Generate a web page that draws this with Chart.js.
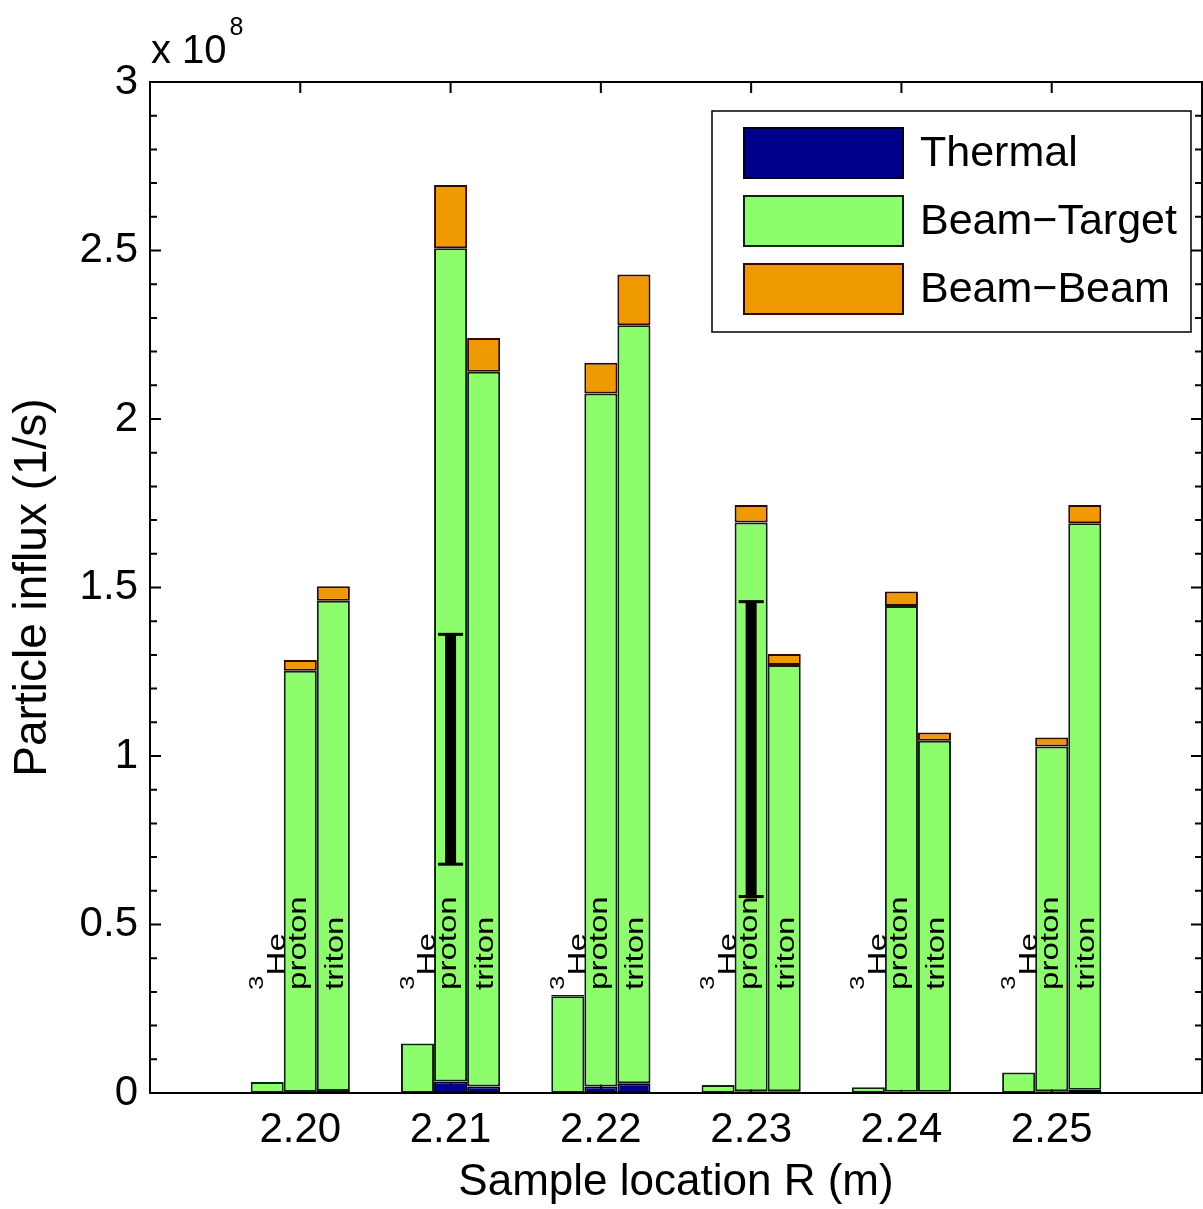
<!DOCTYPE html>
<html>
<head>
<meta charset="utf-8">
<title>Particle influx by sample location</title>
<script src="https://cdn.jsdelivr.net/npm/chart.js@4.4.1/dist/chart.umd.min.js"></script>
<style>
  body { margin: 0; background: #fff; }
  #wrap { width: 1203px; height: 1209px; }
</style>
</head>
<body>
<div id="wrap"><canvas id="influxChart"></canvas></div>
<script>
// sample locations R (m)
const locations = ['2.20', '2.21', '2.22', '2.23', '2.24', '2.25'];
const species = ['3He', 'proton', 'triton'];

// influx in units of 1e8 particles/s, one array per species and source
const thermalHe3 = [null, null, null, null, null, null];
const thermalProton = [0.003, 0.034, 0.019, 0.005, 0.004, 0.005];
const thermalTriton = [0.006, 0.019, 0.029, 0.005, 0.004, 0.010];

const beamTargetHe3 = [0.033, 0.147, 0.287, 0.024, 0.017, 0.061];
const beamTargetProton = [1.250, 2.473, 2.057, 1.688, 1.441, 1.023];
const beamTargetTriton = [1.455, 2.121, 2.249, 1.265, 1.041, 1.681];

const beamBeamHe3 = [null, null, 0.004, null, null, null];
const beamBeamProton = [0.032, 0.187, 0.091, 0.052, 0.043, 0.027];
const beamBeamTriton = [0.043, 0.100, 0.151, 0.033, 0.025, 0.054];

// measured proton influx range
const protonErrLow = [null, 0.679, null, 0.583, null, null];
const protonErrHigh = [null, 1.361, null, 1.458, null, null];

const yTicks = [0, 0.5, 1, 1.5, 2, 2.5, 3];
const labelLevel = 0.3;

const FONT = "'Liberation Sans', Arial, sans-serif";

const sources = [
  { name: 'Thermal', fill: '#00008C', edge: '#00001c', data: [thermalHe3, thermalProton, thermalTriton] },
  { name: 'Beam\u2212Target', fill: '#8DFD6D', edge: '#0c240c', data: [beamTargetHe3, beamTargetProton, beamTargetTriton] },
  { name: 'Beam\u2212Beam', fill: '#EE9900', edge: '#360600', data: [beamBeamHe3, beamBeamProton, beamBeamTriton] }
];

// empty slot on each side of the six locations
const axisLabels = ['', ...locations, ''];
const pad = arr => [null, ...arr, null];

const datasets = [];
sources.forEach(src => {
  species.forEach((sp, s) => {
    datasets.push({
      label: src.name,
      stack: sp,
      data: pad(src.data[s]),
      backgroundColor: src.fill,
      borderColor: src.edge,
      borderWidth: 2,
      borderSkipped: false,
      categoryPercentage: 0.66,
      barPercentage: 1
    });
  });
});

const protonIndex = datasets.findIndex(d => d.label === 'Beam\u2212Target' && d.stack === 'proton');

// rotated species name, glyph extent centred on the bar
function drawBarLabel(ctx, cx, y0, parts) {
  ctx.save();
  ctx.translate(cx, y0);
  ctx.rotate(-Math.PI / 2);
  ctx.scale(1, 0.78);
  ctx.textBaseline = 'alphabetic';
  ctx.textAlign = 'left';
  let X = 0, top = Infinity, bottom = -Infinity;
  const placed = parts.map(p => {
    ctx.font = `${p.size}px ${FONT}`;
    const m = ctx.measureText(p.text);
    top = Math.min(top, -p.rise - m.actualBoundingBoxAscent);
    bottom = Math.max(bottom, -p.rise + m.actualBoundingBoxDescent);
    const item = Object.assign({}, p, { X });
    X += m.width;
    return item;
  });
  const shift = -(top + bottom) / 2;
  ctx.fillStyle = '#000';
  placed.forEach(p => {
    ctx.font = `${p.size}px ${FONT}`;
    ctx.fillText(p.text, p.X, shift - p.rise);
  });
  ctx.restore();
}

const decorations = {
  id: 'decorations',
  beforeDatasetsDraw(chart) {
    const { ctx, chartArea: a, scales: { x, y } } = chart;
    ctx.save();
    ctx.strokeStyle = '#000';
    ctx.lineWidth = 2;
    ctx.beginPath();
    for (let k = 0; k <= 30; k++) {
      const py = y.getPixelForValue(k / 10);
      const len = k % 5 === 0 ? 11 : 7;
      ctx.moveTo(a.left, py); ctx.lineTo(a.left + len, py);
      ctx.moveTo(a.right, py); ctx.lineTo(a.right - len, py);
    }
    locations.forEach((_, i) => {
      const px = x.getPixelForValue(i + 1);
      ctx.moveTo(px, a.top); ctx.lineTo(px, a.top + 11);
      ctx.moveTo(px, a.bottom); ctx.lineTo(px, a.bottom - 11);
    });
    ctx.stroke();
    ctx.restore();
  },
  afterDatasetsDraw(chart) {
    const { ctx, chartArea: a, scales: { y } } = chart;
    ctx.save();

    // error bars on the proton column
    const pm = chart.getDatasetMeta(protonIndex);
    ctx.fillStyle = '#000';
    protonErrLow.forEach((lo, i) => {
      if (lo === null) return;
      const bx = pm.data[i + 1].x;
      const yt = y.getPixelForValue(protonErrHigh[i]);
      const yb = y.getPixelForValue(lo);
      ctx.fillRect(bx - 5.5, yt, 11, yb - yt);
      ctx.fillRect(bx - 12.5, yt - 1.5, 25, 3);
      ctx.fillRect(bx - 12.5, yb - 1.5, 25, 3);
    });

    // species names inside the bars
    const y0 = y.getPixelForValue(labelLevel) - 2;
    species.forEach(sp => {
      const idx = datasets.findIndex(d => d.stack === sp && d.label === 'Beam\u2212Target');
      const meta = chart.getDatasetMeta(idx);
      locations.forEach((_, i) => {
        const cx = meta.data[i + 1].x;
        const parts = sp === '3He'
          ? [{ text: '3', size: 26, rise: 28 }, { text: 'He', size: 33, rise: 0 }]
          : [{ text: sp, size: 33, rise: 0 }];
        drawBarLabel(ctx, cx, y0, parts);
      });
    });

    // axes box
    ctx.strokeStyle = '#000';
    ctx.lineWidth = 2;
    ctx.strokeRect(a.left, a.top, a.right - a.left, a.bottom - a.top);
    ctx.restore();
  },
  afterDraw(chart) {
    const { ctx, chartArea: a } = chart;
    ctx.save();

    // legend
    const lx = a.right - 490, ly = a.top + 29;
    ctx.fillStyle = '#fff';
    ctx.fillRect(lx, ly, 479, 221);
    ctx.strokeStyle = '#000';
    ctx.lineWidth = 1.5;
    ctx.strokeRect(lx, ly, 479, 221);
    sources.forEach((src, k) => {
      const sy = ly + 16 + k * 68;
      ctx.fillStyle = src.edge;
      ctx.fillRect(lx + 31, sy, 161, 52);
      ctx.fillStyle = src.fill;
      ctx.fillRect(lx + 33, sy + 2, 157, 48);
      ctx.fillStyle = '#000';
      ctx.font = `43px ${FONT}`;
      ctx.textBaseline = 'middle';
      ctx.textAlign = 'left';
      ctx.fillText(src.name, lx + 208, sy + 27);
    });

    // axis multiplier
    ctx.fillStyle = '#000';
    ctx.textBaseline = 'alphabetic';
    ctx.font = `40px ${FONT}`;
    ctx.fillText('x 10', a.left + 1, 63);
    const w = ctx.measureText('x 10').width;
    ctx.font = `25px ${FONT}`;
    ctx.fillText('8', a.left + 4 + w, 35);
    ctx.restore();
  }
};

new Chart(document.getElementById('influxChart'), {
  type: 'bar',
  data: { labels: axisLabels, datasets },
  options: {
    responsive: true,
    maintainAspectRatio: false,
    animation: false,
    layout: { padding: { top: 82, right: 1, left: 0, bottom: 0 } },
    plugins: { legend: { display: false }, tooltip: { enabled: false } },
    scales: {
      x: {
        stacked: true,
        offset: false,
        grid: { display: false, drawTicks: true, tickLength: 12 },
        border: { display: false },
        ticks: {
          autoSkip: false,
          maxRotation: 0,
          padding: 0,
          color: '#000',
          font: { family: FONT, size: 42 },
          callback: (v, i) => axisLabels[i]
        },
        title: {
          display: true,
          text: 'Sample location R (m)',
          color: '#000',
          font: { family: FONT, size: 44 },
          padding: { top: 0, bottom: 0 }
        },
        afterFit: s => { s.height = 116; }
      },
      y: {
        stacked: true,
        min: 0,
        max: 3,
        grid: { display: false, drawTicks: true, tickLength: 12 },
        border: { display: false },
        ticks: {
          stepSize: 0.5,
          padding: 0,
          color: '#000',
          font: { family: FONT, size: 42 },
          callback: v => (yTicks.includes(v) ? String(v) : '')
        },
        title: {
          display: true,
          text: 'Particle influx (1/s)',
          color: '#000',
          font: { family: FONT, size: 46 },
          padding: { top: 6, bottom: 0 }
        },
        afterFit: s => { s.width = 150; }
      }
    }
  },
  plugins: [decorations]
});
</script>
</body>
</html>
